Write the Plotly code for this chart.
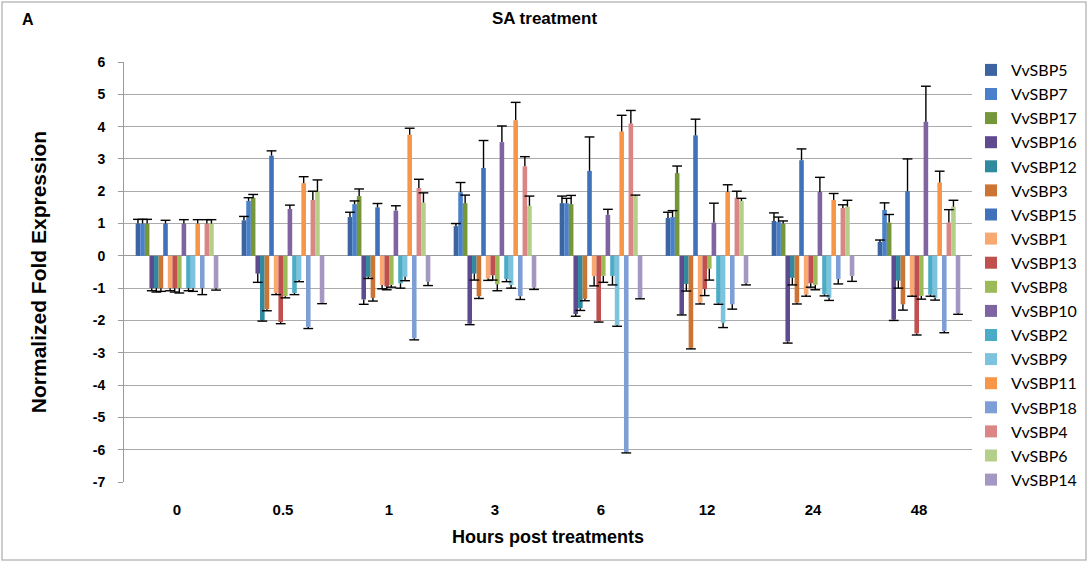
import plotly.graph_objects as go

# ---------------- data ----------------
hours = ["0", "0.5", "1", "3", "6", "12", "24", "48"]

genes = ["VvSBP5", "VvSBP7", "VvSBP17", "VvSBP16", "VvSBP12", "VvSBP3",
         "VvSBP15", "VvSBP1", "VvSBP13", "VvSBP8", "VvSBP10", "VvSBP2",
         "VvSBP9", "VvSBP11", "VvSBP18", "VvSBP4", "VvSBP6", "VvSBP14"]

vvsbp5 = [1, 1.1, 1.2, 0.92, 1.63, 1.17, 1.08, 0.43]
vvsbp5_err = [0.13, 0.12, 0.15, 0.08, 0.22, 0.18, 0.25, 0.06]
vvsbp7 = [1, 1.7, 1.6, 1.97, 1.63, 1.2, 1.05, 1.42]
vvsbp7_err = [0.13, 0.1, 0.1, 0.3, 0.15, 0.2, 0.15, 0.22]
vvsbp17 = [1, 1.8, 1.85, 1.63, 1.6, 2.56, 1.0, 1.03]
vvsbp17_err = [0.13, 0.1, 0.22, 0.25, 0.27, 0.22, 0.08, 0.25]
vvsbp16 = [-1, -0.55, -1.35, -2.1, -1.8, -1.8, -2.65, -1.97]
vvsbp16_err = [0.08, 0.27, 0.15, 0.03, 0.07, 0.03, 0.05, 0.03]
vvsbp12 = [-1, -2.0, -0.65, -0.55, -1.62, -0.87, -0.68, -0.77]
vvsbp12_err = [0.12, 0.02, 0.05, 0.2, 0.07, 0.22, 0.22, 0.23]
vvsbp3 = [-1, -1.65, -1.3, -1.25, -1.33, -2.85, -1.45, -1.5]
vvsbp3_err = [0.1, 0.05, 0.1, 0.07, 0.06, 0.03, 0.04, 0.18]
vvsbp15 = [1, 3.1, 1.5, 2.72, 2.63, 3.73, 2.96, 2.0]
vvsbp15_err = [0.1, 0.15, 0.12, 0.85, 1.05, 0.5, 0.35, 1.0]
vvsbp1 = [-1, -1.15, -0.9, -0.7, -0.63, -1.45, -1.2, -1.22]
vvsbp1_err = [0.08, 0.05, 0.12, 0.06, 0.3, 0.04, 0.05, 0.03]
vvsbp13 = [-1, -2.05, -0.95, -0.6, -2.03, -1.03, -0.85, -2.4]
vvsbp13_err = [0.12, 0.05, 0.1, 0.15, 0.02, 0.2, 0.12, 0.05]
vvsbp8 = [-1, -1.25, -0.9, -0.88, -0.62, -0.4, -0.9, -1.24]
vvsbp8_err = [0.15, 0.05, 0.07, 0.2, 0.2, 0.35, 0.15, 0.1]
vvsbp10 = [1, 1.45, 1.4, 3.52, 1.27, 1.03, 1.98, 4.15]
vvsbp10_err = [0.12, 0.12, 0.15, 0.5, 0.17, 0.6, 0.45, 1.1]
vvsbp2 = [-1, -1.15, -0.85, -0.72, -0.62, -1.47, -1.19, -1.2]
vvsbp2_err = [0.08, 0.05, 0.15, 0.08, 0.28, 0.03, 0.05, 0.05]
vvsbp9 = [-1, -0.75, -0.65, -0.9, -2.15, -2.07, -1.3, -1.3]
vvsbp9_err = [0.1, 0.05, 0.12, 0.1, 0.03, 0.15, 0.08, 0.07]
vvsbp11 = [1, 2.25, 3.75, 4.2, 3.85, 1.98, 1.73, 2.27]
vvsbp11_err = [0.12, 0.2, 0.2, 0.55, 0.5, 0.22, 0.2, 0.35]
vvsbp18 = [-1, -2.2, -2.55, -1.25, -6.08, -1.5, -0.72, -2.33]
vvsbp18_err = [0.2, 0.05, 0.05, 0.1, 0.02, 0.15, 0.15, 0.05]
vvsbp4 = [1, 1.73, 2.1, 2.77, 4.1, 1.8, 1.48, 1.03]
vvsbp4_err = [0.12, 0.27, 0.27, 0.3, 0.4, 0.2, 0.1, 0.4]
vvsbp6 = [1, 2.0, 1.65, 1.55, 1.85, 1.7, 1.52, 1.52]
vvsbp6_err = [0.12, 0.35, 0.3, 0.3, 0.03, 0.08, 0.2, 0.2]
vvsbp14 = [-1, -1.45, -0.8, -0.98, -1.3, -0.85, -0.62, -1.78]
vvsbp14_err = [0.06, 0.03, 0.12, 0.06, 0.03, 0.05, 0.17, 0.03]

y_ticks = [6, 5, 4, 3, 2, 1, 0, -1, -2, -3, -4, -5, -6, -7]

# ---------------- styles ----------------
colors = ["#3B64A0", "#4A80CB", "#76963A", "#5E4A8E", "#2F8AA0", "#CC7434",
          "#3F72BA", "#F8A870", "#C0504D", "#9BBB59", "#8064A2", "#4BACC6",
          "#7DC3DE", "#F79646", "#7E9ED6", "#D98684", "#B3CF8A", "#A497C2"]

values = [vvsbp5, vvsbp7, vvsbp17, vvsbp16, vvsbp12, vvsbp3, vvsbp15, vvsbp1,
          vvsbp13, vvsbp8, vvsbp10, vvsbp2, vvsbp9, vvsbp11, vvsbp18, vvsbp4,
          vvsbp6, vvsbp14]
errors = [vvsbp5_err, vvsbp7_err, vvsbp17_err, vvsbp16_err, vvsbp12_err,
          vvsbp3_err, vvsbp15_err, vvsbp1_err, vvsbp13_err, vvsbp8_err,
          vvsbp10_err, vvsbp2_err, vvsbp9_err, vvsbp11_err, vvsbp18_err,
          vvsbp4_err, vvsbp6_err, vvsbp14_err]

W, H = 1089, 563
ML, MR, MT, MB = 124, 117, 62, 81
PW, PH = W - ML - MR, H - MT - MB
GAP = 0.22
ERR_W = 1.4
FONT = "Liberation Sans, Arial"

def px_x(p):
    return (p - ML) / PW

def px_y(p):
    return 1 - (p - MT) / PH

fig = go.Figure()
for name, vals, errs, col in zip(genes, values, errors, colors):
    up = [e if v >= 0 else 0 for v, e in zip(vals, errs)]
    dn = [e if v < 0 else 0 for v, e in zip(vals, errs)]
    fig.add_trace(go.Bar(
        x=hours, y=vals, name=name, legendgroup=name,
        marker=dict(color=col, line=dict(width=0)),
        error_y=dict(type="data", symmetric=False, array=up, arrayminus=dn,
                     color="black", thickness=ERR_W, width=0),
    ))
# error-bar caps at the far end only (grouped like the bars)
for name, vals, errs in zip(genes, values, errors):
    tips = [v + e if v >= 0 else v - e for v, e in zip(vals, errs)]
    fig.add_trace(go.Scatter(
        x=hours, y=tips, mode="markers", legendgroup=name, showlegend=False,
        marker=dict(symbol="line-ew-open", size=7, color="black",
                    line=dict(color="black", width=ERR_W)),
        hoverinfo="skip",
    ))

fig.update_layout(
    width=W, height=H,
    margin=dict(l=ML, r=MR, t=MT, b=MB, autoexpand=False),
    paper_bgcolor="white", plot_bgcolor="white",
    barmode="group", bargap=GAP, bargroupgap=0,
    scattermode="group", scattergap=GAP,
    font=dict(family=FONT, color="black"),
    title=dict(text="<b>SA treatment</b>", x=0.5, xanchor="center",
               y=1 - 12 / H, yanchor="top", yref="container",
               font=dict(size=17, family=FONT, color="black")),
    legend=dict(x=px_x(ML + PW - 1), xanchor="left", y=px_y(53), yanchor="top",
                font=dict(size=16, family="Lato, Open Sans", color="black"),
                tracegroupgap=0.3, itemwidth=30, maxheight=600,
                bgcolor="rgba(0,0,0,0)"),
    xaxis=dict(
        type="category", categoryarray=hours, showgrid=False, automargin=False,
        showline=False, zeroline=False, ticks="",
        tickvals=hours, ticktext=[f"<b>{h}</b>" for h in hours],
        tickfont=dict(size=15, family=FONT, color="black"),
        ticklabelstandoff=17,
        title=dict(text="<b>Hours post treatments</b>", standoff=13,
                   font=dict(size=18, family=FONT, color="black")),
    ),
    yaxis=dict(
        range=[y_ticks[-1], y_ticks[0]], tickvals=y_ticks, automargin=False,
        ticktext=[f"<b>{v}</b>" for v in y_ticks],
        showgrid=True, gridcolor="#ABABAB", gridwidth=1,
        zeroline=True, zerolinecolor="#9A9A9A", zerolinewidth=1.2,
        showline=True, linecolor="#9A9A9A", linewidth=1,
        ticks="outside", ticklen=5, tickcolor="#9A9A9A", ticklabelstandoff=10,
        tickfont=dict(size=14, family=FONT, color="black"),
        title=dict(text="<b>Normalized Fold Expression</b>", standoff=40,
                   font=dict(size=21, family=FONT, color="black")),
    ),
)

# small tick marks on the zero line between categories
n = len(hours)
fig.update_layout(xaxis2=dict(
    overlaying="x", anchor="free", automargin=False,
    position=(0 - y_ticks[-1]) / (y_ticks[0] - y_ticks[-1]),
    range=[-0.5, n - 0.5], tickvals=[i - 0.5 for i in range(n + 1)],
    ticks="outside", ticklen=5, tickcolor="#9A9A9A", showticklabels=False,
    showgrid=False, zeroline=False, showline=False, fixedrange=True,
))

# panel letter
fig.add_annotation(text="<b>A</b>", x=px_x(20), y=px_y(20), xref="paper", yref="paper",
                   xanchor="left", yanchor="middle", showarrow=False,
                   font=dict(size=16, family=FONT, color="black"))
# outer frame
fig.add_shape(type="rect", xref="paper", yref="paper",
              x0=px_x(2), x1=px_x(W - 3), y0=px_y(H - 3), y1=px_y(2),
              line=dict(color="#BDBDBD", width=1.5), fillcolor="rgba(0,0,0,0)")

fig.write_html("out.html", config={"displayModeBar": False},
               post_script="document.body.style.margin='0';document.body.style.overflow='hidden';")
